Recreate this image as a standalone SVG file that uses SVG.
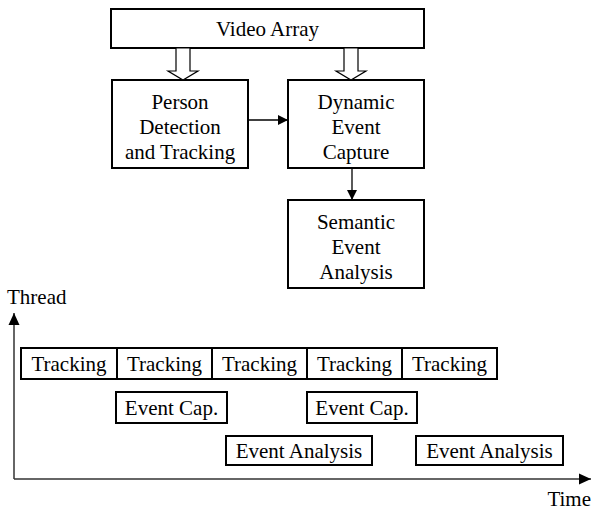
<svg xmlns="http://www.w3.org/2000/svg" width="593" height="510" viewBox="0 0 593 510">
<style>
.box{fill:#fff;stroke:#000;stroke-width:2}
.t{font-size:21px;fill:#000;text-anchor:middle}
.l{font-size:21px;fill:#000}
.c{stroke:#000;stroke-width:1.3;fill:none}
.ax{stroke:#333;stroke-width:1.5;fill:none}
.hol{fill:#fff;stroke:#000;stroke-width:1.2}
</style>
<defs>
<marker id="ah" markerWidth="10" markerHeight="10" refX="10" refY="5" orient="auto" markerUnits="userSpaceOnUse">
<path d="M0,0 L10,5 L0,10 Z" fill="#000"/>
</marker>
<marker id="ah2" markerWidth="12" markerHeight="12" refX="12" refY="6" orient="auto" markerUnits="userSpaceOnUse">
<path d="M0,0.5 L12,6 L0,11.5 Z" fill="#000"/>
</marker>
</defs>
<g font-family="Liberation Serif, DejaVu Serif, serif">
<g id="video-array">
<rect class="box" x="111" y="9" width="313" height="39"/>
<text class="t" x="267.5" y="36">Video Array</text>
</g>
<g id="person-detection">
<rect class="box" x="112" y="80" width="136" height="88"/>
<text class="t" x="180" y="109">Person</text>
<text class="t" x="180" y="134">Detection</text>
<text class="t" x="180" y="159">and Tracking</text>
</g>
<g id="dynamic-event">
<rect class="box" x="288" y="80" width="136" height="88"/>
<text class="t" x="356" y="109">Dynamic</text>
<text class="t" x="356" y="134">Event</text>
<text class="t" x="356" y="159">Capture</text>
</g>
<g id="semantic-event">
<rect class="box" x="288" y="200" width="136" height="88"/>
<text class="t" x="356" y="229">Semantic</text>
<text class="t" x="356" y="254">Event</text>
<text class="t" x="356" y="279">Analysis</text>
</g>
<g id="connectors">
<path class="hol" d="M176,48 L190,48 L190,71 L198,71 L183,80 L168,71 L176,71 Z"/>
<path class="hol" d="M344,48 L358,48 L358,71 L366,71 L351,80 L336,71 L344,71 Z"/>
<line class="c" x1="248" y1="120" x2="288" y2="120" marker-end="url(#ah)"/>
<line class="c" x1="352" y1="168" x2="352" y2="200" marker-end="url(#ah)"/>
</g>
<g id="axes">
<line class="ax" x1="14" y1="479" x2="14" y2="313" marker-end="url(#ah2)"/>
<line class="ax" x1="14" y1="479" x2="591" y2="479" marker-end="url(#ah2)"/>
<text class="l" x="7" y="304">Thread</text>
<text class="l" x="591" y="506" text-anchor="end">Time</text>
</g>
<g id="tracking-1"><rect class="box" x="21" y="348" width="96" height="31"/><text class="t" x="69" y="371">Tracking</text></g>
<g id="tracking-2"><rect class="box" x="117" y="348" width="95" height="31"/><text class="t" x="164.5" y="371">Tracking</text></g>
<g id="tracking-3"><rect class="box" x="212" y="348" width="95" height="31"/><text class="t" x="259.5" y="371">Tracking</text></g>
<g id="tracking-4"><rect class="box" x="307" y="348" width="95" height="31"/><text class="t" x="354.5" y="371">Tracking</text></g>
<g id="tracking-5"><rect class="box" x="402" y="348" width="95" height="31"/><text class="t" x="449.5" y="371">Tracking</text></g>
<g id="event-cap-1"><rect class="box" x="116" y="392" width="111" height="31"/><text class="t" x="171.5" y="415">Event Cap.</text></g>
<g id="event-cap-2"><rect class="box" x="307" y="392" width="110" height="31"/><text class="t" x="362" y="415">Event Cap.</text></g>
<g id="event-analysis-1"><rect class="box" x="226" y="436" width="146" height="29"/><text class="t" x="299" y="458">Event Analysis</text></g>
<g id="event-analysis-2"><rect class="box" x="416" y="436" width="147" height="29"/><text class="t" x="489.5" y="458">Event Analysis</text></g>
</g>
</svg>
